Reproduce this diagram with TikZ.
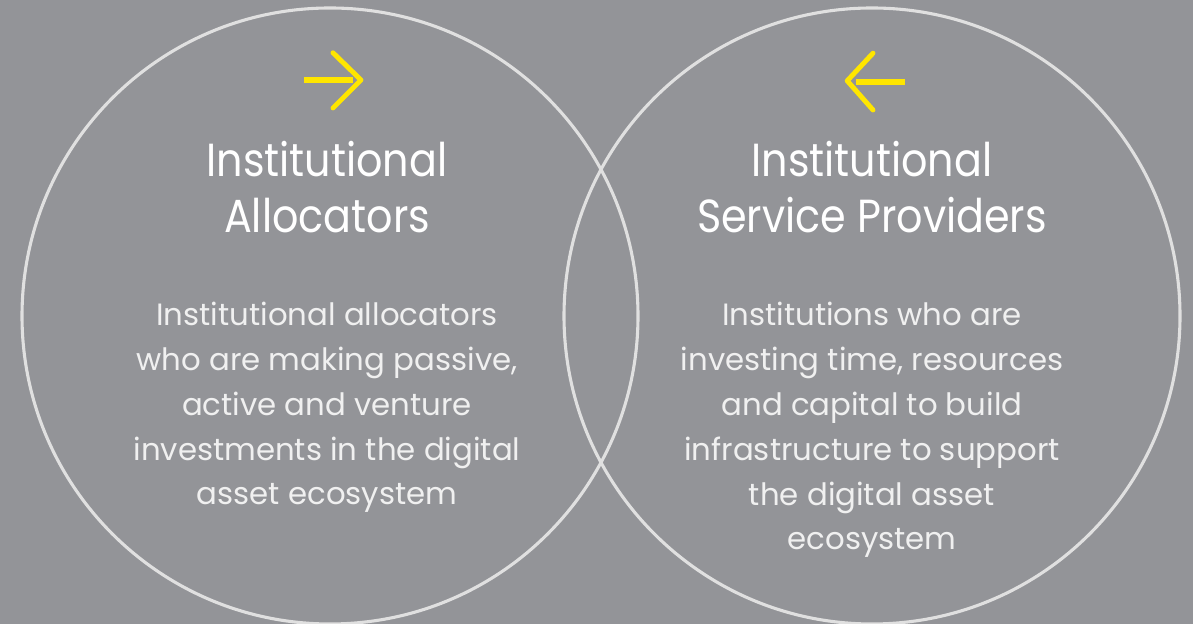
\documentclass[tikz,border=0pt]{standalone}
\usepackage{fontspec}
\usepackage{tikz}
\usetikzlibrary{positioning}

\setmainfont{Poppins}
\newfontfamily\headfont[FakeStretch=0.89]{Poppins}
\definecolor{slate}{RGB}{147,148,152}
\definecolor{ringgray}{RGB}{224,224,224}
\definecolor{eyyellow}{RGB}{255,230,0}
\definecolor{softwhite}{RGB}{240,240,240}

\tikzset{
	ring/.style={draw=ringgray, line width=2.2pt},
	shaft/.style={draw=eyyellow, line width=4.2pt},
	chevron/.style={draw=eyyellow, line width=3.5pt, line cap=round, line join=round},
	heading/.style={text=white, align=center, inner sep=0pt, font=\headfont\fontsize{33}{40}\selectfont},
	blurb/.style={text=softwhite, align=center, inner sep=0pt, font=\fontsize{21.9}{31.9}\selectfont}
}

\begin{document}
\begin{tikzpicture}
	% Background:
	\fill[slate] (0, 0) rectangle (29.825, 15.6);
	\useasboundingbox (0, 0) rectangle (29.825, 15.6);

	% Circles:
	\draw[ring] (8.25, 7.7) circle (7.7);
	\draw[ring] (21.8, 7.7) circle (7.7);

	% Arrows:
	\draw[shaft] (7.6, 13.59) -- (8.82, 13.59);
	\draw[chevron] (8.325, 14.28) -- (9.025, 13.6) -- (8.325, 12.9);
	\draw[shaft] (21.4, 13.55) -- (22.625, 13.55);
	\draw[chevron] (21.825, 14.27) -- (21.18, 13.58) -- (21.825, 12.85);

	% Labels (base = last line)
	\node[heading, anchor=base] (alloc) at (8.175, 9.775) {Institutional\\Allocators};
	\node[heading, anchor=base] (provid) at (21.8, 9.775) {Institutional\\Service Providers};

	\node[blurb, anchor=base] (allocText) at (8.175, 2.975) {Institutional allocators\\who are making passive,\\active and venture\\investments in the digital\\asset ecosystem};
	\node[blurb, anchor=base] (providText) at (21.8, 1.85) {Institutions who are\\investing time, resources\\and capital to build\\infrastructure to support\\the digital asset\\ecosystem};

\end{tikzpicture}
\end{document}
